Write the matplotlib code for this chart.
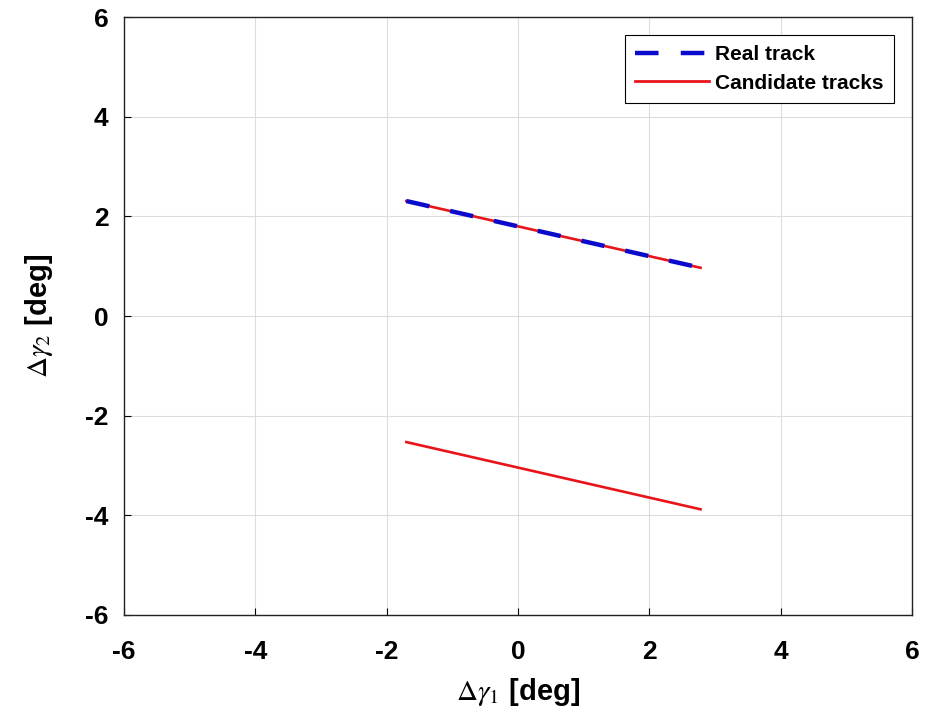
import matplotlib
matplotlib.use("Agg")
import matplotlib.pyplot as plt

plt.rcParams['font.family'] = ['Liberation Sans', 'DejaVu Sans']
plt.rcParams['mathtext.fontset'] = 'stix'

# Data
real_x = [-1.70, 2.78]
real_y = [2.31, 0.97]
cand1_x = [-1.70, 2.78]
cand1_y = [2.31, 0.97]
cand2_x = [-1.70, 2.78]
cand2_y = [-2.53, -3.88]
ticks = [-6, -4, -2, 0, 2, 4, 6]

fig = plt.figure(figsize=(9.35, 7.2), dpi=100)
ax = fig.add_axes([0.1326, 0.146, 0.8428, 0.830])

ax.plot(cand1_x, cand1_y, color='#e8141a', lw=1.9, zorder=2)
ax.plot(cand2_x, cand2_y, color='#e8141a', lw=1.9, zorder=2)
ax.plot(real_x, real_y, color='#0a0acc', lw=3.2, dashes=(5.3, 4.8), zorder=3)

# legend handles
h_real, = ax.plot([], [], color='#0a0acc', lw=3.2, dashes=(5.3, 5.0), label='Real track')
h_cand, = ax.plot([], [], color='#e8141a', lw=2.0, label='Candidate tracks')
leg = ax.legend(handles=[h_real, h_cand], loc='upper right', fancybox=False,
                framealpha=1, edgecolor='black', prop={'weight': 'bold', 'size': 15},
                handlelength=3.55, handletextpad=0.3, borderpad=0.5, labelspacing=0.45,
                borderaxespad=0.85)
leg.get_frame().set_linewidth(0.8)

ax.set_xlim(-6, 6)
ax.set_ylim(-6, 6)
ax.set_xticks(ticks)
ax.set_yticks(ticks)
ax.set_xticklabels([str(t) for t in ticks], fontsize=19, fontweight='bold')
ax.set_yticklabels([str(t) for t in ticks], fontsize=19, fontweight='bold')
ax.tick_params(direction='in', length=5, width=0.8)
ax.tick_params(axis='x', pad=18)
ax.tick_params(axis='y', pad=11)
ax.grid(True, color='#dcdcdc', lw=0.8)
ax.set_axisbelow(True)
for s in ax.spines.values():
    s.set_linewidth(1.0)
    s.set_color('#222222')

ax.set_xlabel(r'$\Delta\gamma_1$ [deg]', fontsize=21, fontweight='bold', labelpad=9)
ax.set_ylabel(r'$\Delta\gamma_2$ [deg]', fontsize=21, fontweight='bold', labelpad=22)

fig.savefig('out.png', dpi=100)
